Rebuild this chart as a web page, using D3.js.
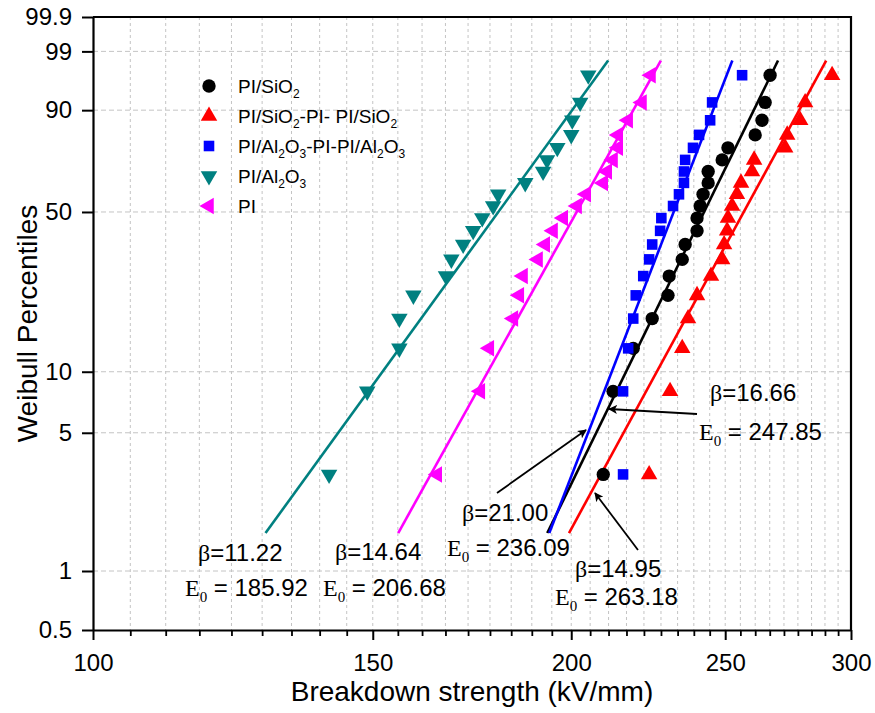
<!DOCTYPE html>
<html><head><meta charset="utf-8">
<script src="https://cdn.jsdelivr.net/npm/d3@7"></script>
<style>body{margin:0;background:#fff}</style>
</head><body>
<svg id="c" width="875" height="713"></svg>
<script>
// ---------------- data ----------------
const seriesNames = ["PI/SiO2", "PI/SiO2-PI- PI/SiO2", "PI/Al2O3-PI-PI/Al2O3", "PI/Al2O3", "PI"];
const seriesColors = ["#000000", "#ff0000", "#0000ff", "#008080", "#ff00ff"];
const seriesSymbols = ["circle", "triangleUp", "square", "triangleDown", "triangleLeft"];
// Weibull percentiles (%) of ranked samples, shared by every series (n = 20)
const percentiles = [3.09, 8.02, 12.96, 17.90, 22.84, 27.78, 32.72, 37.65, 42.59, 47.53,
                     52.47, 57.41, 62.35, 67.28, 72.22, 77.16, 82.10, 87.04, 91.98, 96.91];
// Breakdown strengths (kV/mm), sorted
const piSiO2 = [209.5, 212.5, 218.8, 224.9, 230.1, 230.5, 234.9, 235.9, 240.0, 240.0,
                241.1, 242.1, 243.9, 243.9, 248.9, 251.0, 261.1, 263.7, 264.9, 266.8];
const piSiO2Sandwich = [223.9, 230.8, 234.9, 236.9, 240.0, 244.9, 248.9, 249.6, 250.7, 251.0,
                        252.5, 254.3, 255.8, 259.9, 260.7, 272.7, 273.5, 278.7, 280.7, 291.9];
const piAl2O3Sandwich = [215.6, 215.6, 217.2, 218.8, 219.6, 222.0, 223.9, 224.9, 227.5, 227.9,
                         231.8, 233.8, 235.5, 235.5, 235.9, 238.6, 240.7, 244.6, 245.3, 256.2];
const piAl2O3 = [140.8, 148.8, 155.9, 155.9, 159.1, 166.8, 168.1, 171.0, 173.5, 175.8,
                 178.6, 179.9, 187.1, 192.0, 193.1, 196.0, 200.0, 200.3, 202.6, 205.0];
const pi = [164.7, 175.3, 177.6, 183.9, 185.5, 186.5, 190.6, 192.6, 194.8, 197.7,
            201.7, 204.4, 209.5, 210.7, 212.5, 214.1, 214.1, 217.2, 221.6, 224.5];
const seriesValues = [piSiO2, piSiO2Sandwich, piAl2O3Sandwich, piAl2O3, pi];
// Weibull fit parameters
const betas = [16.66, 14.95, 21.00, 11.22, 14.64];
const e0s = [247.85, 263.18, 236.09, 185.92, 206.68];
const fitRange = [1.56, 98.4];   // percentile span of fitted lines
// axes
const xTicks = [100, 150, 200, 250, 300];
const xMinorPerMajor = 8;
const yTicks = [0.5, 1, 5, 10, 50, 90, 99, 99.9];
const yTickLabels = ["0.5", "1", "5", "10", "50", "90", "99", "99.9"];
const xTitle = "Breakdown strength (kV/mm)";
const yTitle = "Weibull Percentiles";

// ---------------- drawing ----------------
const SANS = "'Liberation Sans', Arial, sans-serif";
const SERIF = "'Liberation Serif', 'Times New Roman', serif";
const Wb = p => Math.log(-Math.log(1 - p / 100));

const L = 93, R = 851, T = 17, B = 630;
const x = d3.scaleLog().domain([100, 300]).range([L, R]);
const y = d3.scaleLinear().domain([Wb(0.5), Wb(99.9)]).range([B, T]);

const svg = d3.select("#c");
svg.append("rect").attr("width", 875).attr("height", 713).attr("fill", "#fff");

// minor x values
const xMinor = [];
for (let i = 0; i < xTicks.length - 1; i++) {
  const a = xTicks[i], b = xTicks[i + 1];
  for (let k = 1; k <= xMinorPerMajor; k++) xMinor.push(a + k * (b - a) / (xMinorPerMajor + 1));
}

// grid
const grid = svg.append("g");
grid.selectAll("line.vmin").data(xMinor.concat(xTicks.slice(1, -1))).join("line")
  .attr("x1", d => x(d)).attr("x2", d => x(d)).attr("y1", T).attr("y2", B)
  .attr("stroke", "#c4c4c4").attr("stroke-width", 1).attr("stroke-dasharray", "3,3");
grid.selectAll("line.h").data(yTicks.slice(1, -1)).join("line")
  .attr("x1", L).attr("x2", R).attr("y1", d => y(Wb(d))).attr("y2", d => y(Wb(d)))
  .attr("stroke", "#c4c4c4").attr("stroke-width", 1).attr("stroke-dasharray", "5,3");

// fitted lines
const line = d3.line().x(d => x(d[0])).y(d => y(d[1]));
seriesNames.forEach((n, i) => {
  const pts = fitRange.map(p => [e0s[i] * Math.exp(Wb(p) / betas[i]), Wb(p)]);
  svg.append("path").attr("d", line(pts)).attr("stroke", seriesColors[i])
    .attr("stroke-width", 2.6).attr("fill", "none");
});

// markers
function symbolPath(kind) {
  if (kind === "circle") return d3.symbol(d3.symbolCircle, 140)();
  if (kind === "square") return d3.symbol(d3.symbolSquare, 112)();
  return d3.symbol(d3.symbolTriangle, 118)();
}
function symbolRot(kind) {
  return kind === "triangleDown" ? 180 : kind === "triangleLeft" ? -90 : 0;
}
seriesNames.forEach((n, i) => {
  const kind = seriesSymbols[i];
  svg.append("g").selectAll("path").data(seriesValues[i]).join("path")
    .attr("d", symbolPath(kind))
    .attr("transform", (d, j) => `translate(${x(d)},${y(Wb(percentiles[j]))}) rotate(${symbolRot(kind)})`)
    .attr("fill", seriesColors[i]);
});

// axes
const fontAxis = g => g.selectAll("text").attr("font-family", SANS).attr("font-size", 24).attr("fill", "#000");
const xAxis = svg.append("g").attr("transform", `translate(0,${B})`)
  .call(d3.axisBottom(x).tickValues(xTicks).tickFormat(d3.format("d")).tickSize(10).tickPadding(14).tickSizeOuter(0));
xAxis.call(fontAxis);
xAxis.selectAll("line").attr("stroke-width", 2);
xAxis.select(".domain").attr("stroke-width", 2.2);
svg.append("g").attr("transform", `translate(0,${B})`)
  .call(d3.axisBottom(x).tickValues(xMinor).tickFormat("").tickSize(6).tickSizeOuter(0))
  .call(g => { g.select(".domain").remove(); g.selectAll("text").remove(); g.selectAll("line").attr("stroke-width", 1.8); });

const yAxis = svg.append("g").attr("transform", `translate(${L},0)`)
  .call(d3.axisLeft(y).tickValues(yTicks.map(Wb)).tickFormat((d, i) => yTickLabels[i]).tickSize(11).tickPadding(10).tickSizeOuter(0));
yAxis.call(fontAxis);
yAxis.selectAll("line").attr("stroke-width", 2);
yAxis.select(".domain").attr("stroke-width", 2.2);

// frame top & right
svg.append("path").attr("d", `M${L},${T}H${R}V${B}`).attr("stroke", "#000").attr("stroke-width", 2.2).attr("fill", "none");

// titles
svg.append("text").attr("x", (L + R) / 2).attr("y", 701).attr("text-anchor", "middle")
  .attr("font-family", SANS).attr("font-size", 28).text(xTitle);
svg.append("text").attr("transform", `translate(37,${(T + B) / 2}) rotate(-90)`).attr("text-anchor", "middle")
  .attr("font-family", SANS).attr("font-size", 28).text(yTitle);

// legend
const legendY = [86, 116, 146, 176, 206];
const leg = svg.append("g");
seriesNames.forEach((n, i) => {
  const kind = seriesSymbols[i];
  leg.append("path").attr("d", symbolPath(kind))
    .attr("transform", `translate(209,${legendY[i]}) rotate(${symbolRot(kind)})`).attr("fill", seriesColors[i]);
  const t = leg.append("text").attr("x", 238).attr("y", legendY[i] + 7)
    .attr("font-family", SANS).attr("font-size", 19).attr("fill", "#000");
  let shifted = false;
  n.split(/(\d)/).filter(s => s.length).forEach(s => {
    if (/^\d$/.test(s)) {
      t.append("tspan").attr("font-size", 12).attr("dy", 5).text(s);
      shifted = true;
    } else {
      const sp = t.append("tspan").text(s);
      if (shifted) { sp.attr("dy", -5); shifted = false; }
    }
  });
});

// annotations
const annots = [
  { i: 3, bx: 198, by: 561, ex: 185, ey: 596 },
  { i: 4, bx: 335, by: 560, ex: 323, ey: 596 },
  { i: 2, bx: 462, by: 521, ex: 447, ey: 556 },
  { i: 1, bx: 575, by: 577, ex: 555, ey: 605 },
  { i: 0, bx: 710, by: 401, ex: 699, ey: 440 }
];
annots.forEach(a => {
  const tb = svg.append("text").attr("x", a.bx).attr("y", a.by).attr("font-size", 24).attr("fill", "#000");
  tb.append("tspan").attr("font-family", SERIF).text("\u03b2");
  tb.append("tspan").attr("font-family", SANS).text("=" + betas[a.i].toFixed(2));
  const te = svg.append("text").attr("x", a.ex).attr("y", a.ey).attr("font-size", 24).attr("fill", "#000");
  te.append("tspan").attr("font-family", SERIF).text("E");
  te.append("tspan").attr("font-family", SERIF).attr("font-size", 15).attr("dy", 6).text("0");
  te.append("tspan").attr("font-family", SANS).attr("dy", -6).text(" = " + e0s[a.i].toFixed(2));
});

// arrows
svg.append("defs").append("marker").attr("id", "ah").attr("viewBox", "0 0 10 10")
  .attr("refX", 9).attr("refY", 5).attr("markerWidth", 9).attr("markerHeight", 9)
  .attr("markerUnits", "userSpaceOnUse").attr("orient", "auto")
  .append("path").attr("d", "M0,0L10,5L0,10L2.5,5Z").attr("fill", "#000");
const arrows = [[697, 414, 609, 409], [497, 493, 586, 430], [638, 550, 595, 493]];
svg.append("g").selectAll("line").data(arrows).join("line")
  .attr("x1", d => d[0]).attr("y1", d => d[1]).attr("x2", d => d[2]).attr("y2", d => d[3])
  .attr("stroke", "#000").attr("stroke-width", 1.8).attr("marker-end", "url(#ah)");
</script>
</body></html>
